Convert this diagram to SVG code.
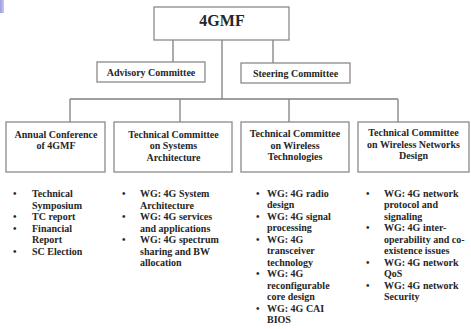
<svg xmlns="http://www.w3.org/2000/svg" width="471" height="329" viewBox="0 0 471 329">
<style>
.box{fill:#fff;stroke:#8a8a8a;stroke-width:1.3}
.ln{stroke:#808080;stroke-width:1.3;fill:none}
text{font-family:"Liberation Serif","Times New Roman",serif;font-weight:bold;font-size:10px;fill:#262626}
.c{text-anchor:middle}
</style>
<defs>
<linearGradient id="pg" x1="0" y1="0" x2="1" y2="0">
<stop offset="0" stop-color="#9c9ce0"/>
<stop offset="1" stop-color="#c8c8f0"/>
</linearGradient>
</defs>
<rect width="471" height="329" fill="#fff"/>
<rect x="0" y="0" width="4" height="13" fill="url(#pg)"/>
<g id="connectors">
<path class="ln" d="M173 40V62M273 40V63M222 40V99M70 99H398M70 99V122M180 99V122M289 99V122M398 99V122"/>
</g>
<g id="n4gmf">
<rect class="box" x="154" y="7" width="135" height="33"/>
<text class="c" x="222" y="26" style="font-size:16px">4GMF</text>
</g>
<g id="advisory">
<rect class="box" x="97" y="62" width="108" height="20"/>
<text class="c" x="151" y="76">Advisory Committee</text>
</g>
<g id="steering">
<rect class="box" x="241" y="63" width="109" height="20"/>
<text class="c" x="295.5" y="76.5">Steering Committee</text>
</g>
<g id="annual">
<rect class="box" x="6" y="122" width="99" height="50"/>
<text class="c" x="56" y="137.5">Annual Conference</text>
<text class="c" x="56" y="149">of 4GMF</text>
</g>
<g id="systems">
<rect class="box" x="114" y="122" width="118" height="50"/>
<text class="c" x="173.5" y="137.5">Technical Committee</text>
<text class="c" x="173.5" y="149">on Systems</text>
<text class="c" x="173.5" y="160.5">Architecture</text>
</g>
<g id="wireless-tech">
<rect class="box" x="241" y="122" width="108" height="50"/>
<text class="c" x="295" y="137">Technical Committee</text>
<text class="c" x="295" y="148.5">on Wireless</text>
<text class="c" x="295" y="160">Technologies</text>
</g>
<g id="wireless-net">
<rect class="box" x="358" y="122" width="111" height="50"/>
<text class="c" x="413.5" y="136">Technical Committee</text>
<text class="c" x="413.5" y="147.5">on Wireless Networks</text>
<text class="c" x="413.5" y="159">Design</text>
</g>
<g id="list-annual">
<text x="13" y="197">•</text><text x="32" y="197">Technical</text>
<text x="32" y="208.5">Symposium</text>
<text x="13" y="220">•</text><text x="32" y="220">TC report</text>
<text x="13" y="231.5">•</text><text x="32" y="231.5">Financial</text>
<text x="32" y="243">Report</text>
<text x="13" y="254.5">•</text><text x="32" y="254.5">SC Election</text>
</g>
<g id="list-systems">
<text x="122" y="197">•</text><text x="140" y="197">WG: 4G System</text>
<text x="140" y="208.5">Architecture</text>
<text x="122" y="220">•</text><text x="140" y="220">WG: 4G services</text>
<text x="140" y="231.5">and applications</text>
<text x="122" y="243">•</text><text x="140" y="243">WG: 4G spectrum</text>
<text x="140" y="254.5">sharing and BW</text>
<text x="140" y="266">allocation</text>
</g>
<g id="list-wireless-tech">
<text x="256" y="196.5">•</text><text x="267" y="196.5">WG: 4G radio</text>
<text x="267" y="208">design</text>
<text x="256" y="219.5">•</text><text x="267" y="219.5">WG: 4G signal</text>
<text x="267" y="231">processing</text>
<text x="256" y="242.5">•</text><text x="267" y="242.5">WG:  4G</text>
<text x="267" y="254">transceiver</text>
<text x="267" y="265.5">technology</text>
<text x="256" y="277">•</text><text x="267" y="277">WG: 4G</text>
<text x="267" y="288.5">reconfigurable</text>
<text x="267" y="300">core design</text>
<text x="256" y="311.5">•</text><text x="267" y="311.5">WG: 4G CAI</text>
<text x="267" y="323">BIOS</text>
</g>
<g id="list-wireless-net">
<text x="366" y="196.5">•</text><text x="384" y="196.5">WG: 4G network</text>
<text x="384" y="208">protocol and</text>
<text x="384" y="219.5">signaling</text>
<text x="366" y="231">•</text><text x="384" y="231">WG: 4G inter-</text>
<text x="384" y="242.5">operability and co-</text>
<text x="384" y="254">existence issues</text>
<text x="366" y="265.5">•</text><text x="384" y="265.5">WG: 4G network</text>
<text x="384" y="277">QoS</text>
<text x="366" y="288.5">•</text><text x="384" y="288.5">WG: 4G network</text>
<text x="384" y="300">Security</text>
</g>
</svg>
